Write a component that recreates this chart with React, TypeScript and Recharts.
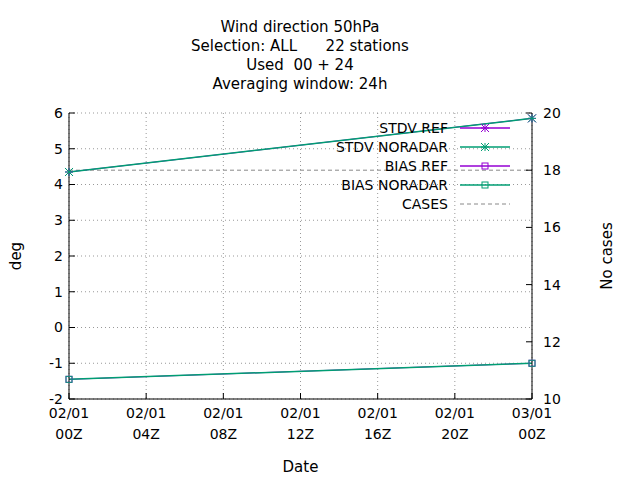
import React from "react";
import {
  LineChart,
  Line,
  XAxis,
  YAxis,
  CartesianGrid,
} from "recharts";

const hours = [0, 24];
const stdvRef = [4.35, 5.85];
const stdvNoradar = [4.35, 5.85];
const biasRef = [-1.45, -1.0];
const biasNoradar = [-1.45, -1.0];
const cases = [18, 18];
const xTicks = [0, 4, 8, 12, 16, 20, 24];
const xTickLabels = ["02/01|00Z", "02/01|04Z", "02/01|08Z", "02/01|12Z", "02/01|16Z", "02/01|20Z", "03/01|00Z"];
const titleLines = ["Wind direction 50hPa", "Selection: ALL      22 stations", "Used  00 + 24", "Averaging window: 24h"];

const PURPLE = "#9400d3";
const GREEN = "#009e73";
const FONT = "'DejaVu Sans', sans-serif";

const data = hours.map((h, i) => ({
  h,
  stdvRef: stdvRef[i],
  stdvNoradar: stdvNoradar[i],
  biasRef: biasRef[i],
  biasNoradar: biasNoradar[i],
  cases: cases[i],
}));

const Star = (color: string) => (p: any) => {
  const { cx, cy } = p;
  if (cx == null) return null;
  const r = 4;
  return (
    <g stroke={color} strokeWidth={1} key={`${cx}-${cy}`}>
      <line x1={cx - r} y1={cy} x2={cx + r} y2={cy} />
      <line x1={cx} y1={cy - r} x2={cx} y2={cy + r} />
      <line x1={cx - r} y1={cy - r} x2={cx + r} y2={cy + r} />
      <line x1={cx - r} y1={cy + r} x2={cx + r} y2={cy - r} />
    </g>
  );
};

const Square = (color: string) => (p: any) => {
  const { cx, cy } = p;
  if (cx == null) return null;
  return <rect key={`${cx}-${cy}`} x={cx - 3} y={cy - 3} width={6} height={6} fill="none" stroke={color} strokeWidth={1} />;
};

const XTick = (p: any) => {
  const { x, payload } = p;
  const idx = xTicks.indexOf(payload.value);
  const [a, b] = (xTickLabels[idx] || "").split("|");
  return (
    <text x={x} y={399} textAnchor="middle" fontSize={14} fontFamily={FONT} fill="#000">
      <tspan x={x} dy={19}>{a}</tspan>
      <tspan x={x} dy={21}>{b}</tspan>
    </text>
  );
};

const legendItems = [
  { label: "STDV REF", color: PURPLE, mark: "star" },
  { label: "STDV NORADAR", color: GREEN, mark: "star" },
  { label: "BIAS REF", color: PURPLE, mark: "square" },
  { label: "BIAS NORADAR", color: GREEN, mark: "square" },
  { label: "CASES", color: "#888", mark: "dash" },
];

export default function App() {
  return (
    <div style={{ position: "absolute", left: 0, top: 0, width: 640, height: 480, background: "#fff", fontFamily: FONT }}>
      <svg width={640} height={480} style={{ position: "absolute", left: 0, top: 0 }}>
        {titleLines.map((t, i) => (
          <text key={i} x={300} y={32 + i * 19} textAnchor="middle" fontSize={15} fontFamily={FONT} style={{ whiteSpace: "pre" }}>
            {t}
          </text>
        ))}
        <text x={21} y={256} transform="rotate(-90 21 256)" textAnchor="middle" fontSize={15} fontFamily={FONT}>deg</text>
        <text x={612} y={256} transform="rotate(-90 612 256)" textAnchor="middle" fontSize={15} fontFamily={FONT}>No cases</text>
      </svg>
      <LineChart width={640} height={480} data={data} margin={{ top: 113, right: 0, bottom: 0, left: 0 }} style={{ position: "absolute", left: 0, top: 0 }}>
        <CartesianGrid yAxisId="left" stroke="#999" strokeDasharray="1 3" />
        <XAxis dataKey="h" type="number" domain={[0, 24]} ticks={xTicks} tick={<XTick />} height={81} stroke="#000" tickSize={-6} interval={0}
          label={{ value: "Date", position: "insideBottom", offset: 8, fontSize: 15, fill: "#000", fontFamily: FONT }} />
        <XAxis xAxisId="top" orientation="top" dataKey="h" type="number" domain={[0, 24]} tick={false} height={0} stroke="#000" />
        <YAxis yAxisId="left" domain={[-2, 6]} ticks={[-2, -1, 0, 1, 2, 3, 4, 5, 6]} width={69} stroke="#000" tickSize={-6}
          tick={{ fontSize: 14, fill: "#000", fontFamily: FONT, dx: -10 }} interval={0} />
        <YAxis yAxisId="right" orientation="right" domain={[10, 20]} ticks={[10, 12, 14, 16, 18, 20]} width={108} stroke="#000" tickSize={-6}
          tick={{ fontSize: 14, fill: "#000", fontFamily: FONT, dx: 15, textAnchor: "start" }} interval={0} />
        <Line yAxisId="right" dataKey="cases" stroke="#888" strokeDasharray="4 3" dot={false} isAnimationActive={false} />
        <Line yAxisId="left" dataKey="stdvRef" stroke={PURPLE} dot={Star(PURPLE)} isAnimationActive={false} />
        <Line yAxisId="left" dataKey="stdvNoradar" stroke={GREEN} strokeWidth={1.5} dot={Star(GREEN)} isAnimationActive={false} />
        <Line yAxisId="left" dataKey="biasRef" stroke={PURPLE} dot={Square(PURPLE)} isAnimationActive={false} />
        <Line yAxisId="left" dataKey="biasNoradar" stroke={GREEN} strokeWidth={1.5} dot={Square(GREEN)} isAnimationActive={false} />
      </LineChart>
      <svg width={640} height={480} style={{ position: "absolute", left: 0, top: 0, pointerEvents: "none" }}>
        {legendItems.map((it, i) => {
          const y = 128 + i * 19;
          return (
            <g key={it.label}>
              <text x={448} y={y + 5} textAnchor="end" fontSize={14} fontFamily={FONT}>{it.label}</text>
              <line x1={460} x2={510} y1={y} y2={y} stroke={it.color} strokeWidth={it.mark === "dash" ? 1 : 1.5} strokeDasharray={it.mark === "dash" ? "4 3" : undefined} />
              {it.mark === "star" && Star(it.color)({ cx: 485, cy: y })}
              {it.mark === "square" && Square(it.color)({ cx: 485, cy: y })}
            </g>
          );
        })}
      </svg>
    </div>
  );
}
